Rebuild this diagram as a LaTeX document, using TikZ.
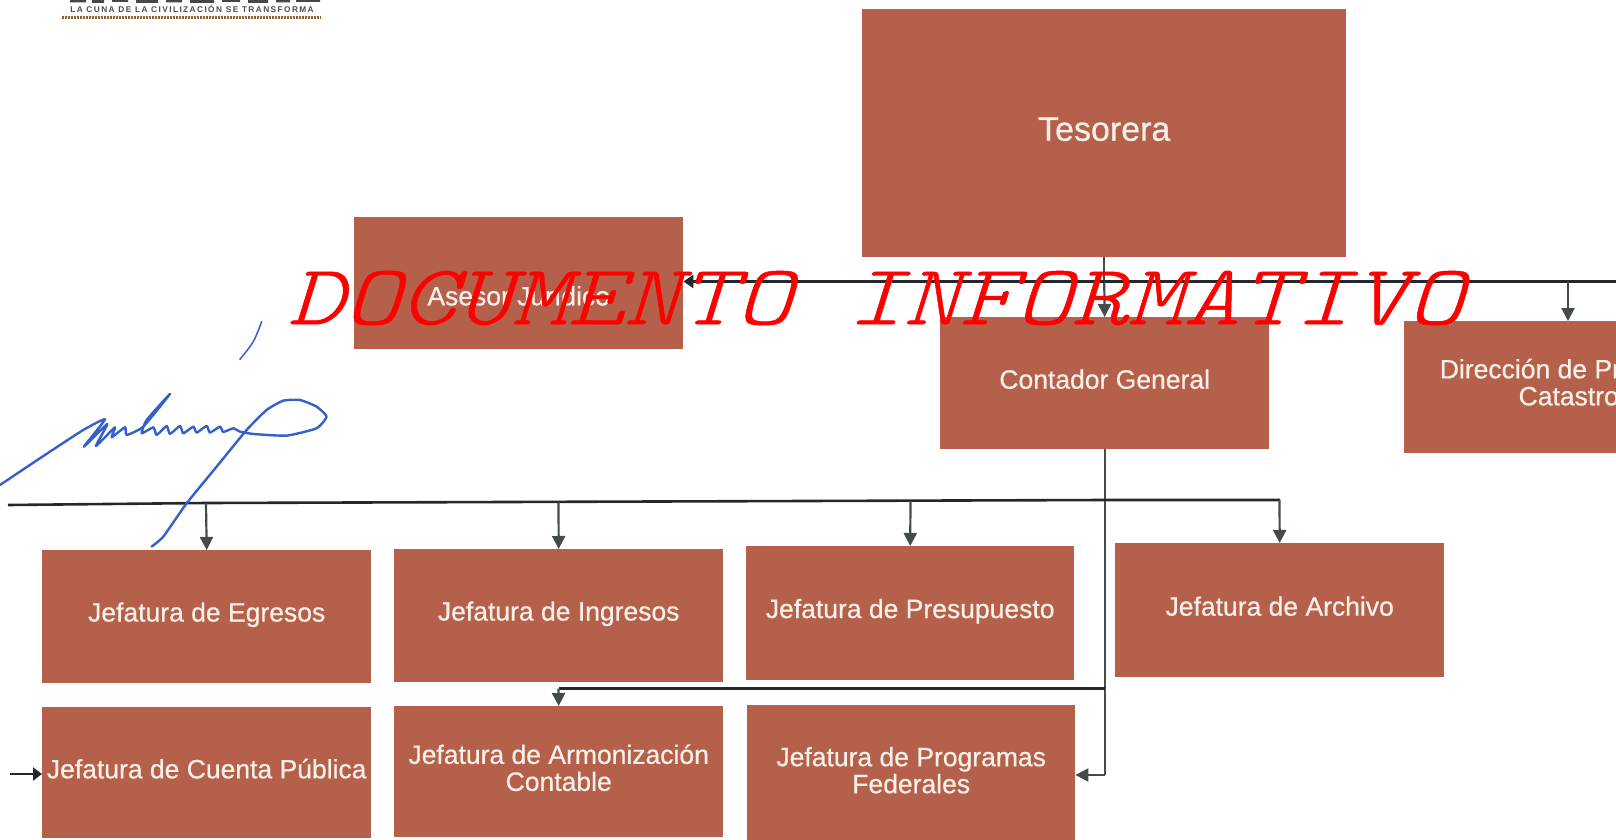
\documentclass[tikz,border=0pt]{standalone}
\usepackage{fontspec}
\setmainfont{Liberation Sans}
\newfontfamily\boxfont[FakeBold=0.6]{Liberation Sans}
\newfontfamily\logofont[LetterSpace=17]{Liberation Sans Bold}
\newfontfamily\wmfont[FakeSlant=0.25,FakeBold=0.5]{Latin Modern Mono Light}
\usetikzlibrary{arrows.meta}
\definecolor{boxfill}{HTML}{B5604A}
\definecolor{boxtext}{HTML}{FBF0E8}
\definecolor{linedark}{HTML}{23282B}
\definecolor{linegrey}{HTML}{454A4D}
\definecolor{signblue}{HTML}{3560CC}
\tikzset{
  x=1pt,y=-1pt,
  orgbox/.style={fill=boxfill,draw=none,inner sep=0pt,anchor=north west},
  boxlabel/.style={text=boxtext,align=center,inner sep=0pt,font=\boxfont\fontsize{26.5}{27}\selectfont},
  hline/.style={draw=linedark,line width=2.6pt},
  vline/.style={draw=linegrey,line width=2.2pt},
  arrowline/.style={draw=linegrey,line width=2.2pt,-{Triangle[length=13pt,width=13pt]}},
  signstroke/.style={draw=signblue,line width=2.4pt,line cap=round,line join=round},
}
\begin{document}
\begin{tikzpicture}
\useasboundingbox (0,0) rectangle (1616,840);
\clip (0,0) rectangle (1616,840);
\fill[white] (0,0) rectangle (1616,840);

% logo remnant
\fill[linedark!85] (70,0) rectangle (86,2.5) (92,0) rectangle (104,3) (112,0) rectangle (128,2) (136,0) rectangle (158,3) (166,0) rectangle (182,2.5) (190,0) rectangle (214,3) (222,0) rectangle (240,2) (248,0) rectangle (268,3) (276,0) rectangle (290,2.5) (296,0) rectangle (320,2);
\node[text=black!70,font=\logofont\fontsize{8.3}{9}\selectfont,inner sep=0pt] (logotext) at (192,8.5) {LA CUNA DE LA CIVILIZACIÓN SE TRANSFORMA};
\draw[draw=brown!75!black,line width=3pt,dash pattern=on 2pt off 1pt] (62,18) -- (321,18);

% boxes
\node[orgbox,minimum width=484,minimum height=248,label={[boxlabel,font=\boxfont\fontsize{34}{36}\selectfont,yshift=4pt]center:Tesorera}] (tes) at (862,9) {};
\node[orgbox,minimum width=329,minimum height=132,label={[boxlabel,yshift=-13pt]center:Asesor Jurídico}] (ase) at (354,216.5) {};
\node[orgbox,minimum width=329,minimum height=132,label={[boxlabel,yshift=4pt]center:Contador General}] (con) at (940,317) {};
\node[orgbox,minimum width=329,minimum height=132,label={[boxlabel,yshift=5pt]center:{Dirección de Predial y\\Catastro}}] (dir) at (1404,321) {};
\node[orgbox,minimum width=329,minimum height=133,label={[boxlabel,yshift=2pt]center:Jefatura de Egresos}] (egr) at (42,550) {};
\node[orgbox,minimum width=329,minimum height=133,label={[boxlabel,yshift=2pt]center:Jefatura de Ingresos}] (ing) at (394,549) {};
\node[orgbox,minimum width=328,minimum height=134,label={[boxlabel,yshift=2pt]center:Jefatura de Presupuesto}] (pre) at (746,546) {};
\node[orgbox,minimum width=329,minimum height=134,label={[boxlabel,yshift=4pt]center:Jefatura de Archivo}] (arc) at (1115,543) {};
\node[orgbox,minimum width=329,minimum height=131,label={[boxlabel,yshift=4pt]center:Jefatura de Cuenta Pública}] (cue) at (42,707) {};
\node[orgbox,minimum width=329,minimum height=131,label={[boxlabel,yshift=4pt]center:{Jefatura de Armonización\\Contable}}] (arm) at (394,706) {};
\node[orgbox,minimum width=328,minimum height=140,label={[boxlabel,yshift=5pt]center:{Jefatura de Programas\\Federales}}] (pro) at (747,705) {};

% connector coordinates
\coordinate (busA) at (tes.south |- 0,281.5);
\coordinate (pageR) at (1616,281.5);
\coordinate (busB) at (1105,500);
\coordinate (busL) at (8,505);
\coordinate (cueL) at (10,774);
\coordinate (armJ) at (1105,688.5);
\coordinate (proJ) at (1105,775);

% connectors
\draw[vline] (tes.south) -- (busA);
\draw[hline] (busA) -- (pageR);
\draw[arrowline] (busA) -- (con.north);
\draw[hline,-{Triangle[length=10pt,width=13pt]}] (busA) -- (ase.east |- busA);
\draw[arrowline] (1568,281.5) -- (1568,321);
\draw[vline] (con.south -| busB) -- (proJ);
\draw[arrowline] (proJ) -- (pro.east |- proJ);
\draw[hline] (busL) -- (206,503) -- (busB) -- (1280,500);
\draw[arrowline] (206,503) -- (egr.north);
\draw[arrowline] (558.5,502) -- (ing.north);
\draw[arrowline] (910.5,501) -- (pre.north);
\draw[arrowline] (1279.5,500) -- (arc.north);
\draw[hline] (armJ) -- (558.5,688.5);
\draw[arrowline] (558.5,688.5) -- (arm.north);
\draw[hline,-{Triangle[length=9pt,width=13pt]}] (cueL) -- (cue.west |- cueL);

% signature
\begin{scope}[x=0.3333pt,y=-0.3333pt,shift={(0,960)}]
\draw[signstroke,line width=1.5pt] plot[smooth,tension=0.5] coordinates {(785,5) (760,65) (720,118)};
\draw[signstroke] plot[smooth,tension=0.3] coordinates {(0,495) (150,395) (250,330) (315,298) (252,380) (322,312) (288,378) (345,322) (335,352) (375,322) (380,345) (430,320) (510,222) (440,300) (425,340) (460,322) (470,345) (500,318) (510,342) (540,318) (550,340) (580,320) (590,338) (620,318) (630,338) (660,320) (670,336) (700,325) (720,335) (760,342) (860,347) (950,325) (980,290) (950,260) (900,240) (850,242) (800,270) (740,330) (650,440) (560,550) (490,650) (455,680)};
\end{scope}

% watermark
\node[text=red,font=\wmfont\fontsize{102}{102}\selectfont,inner sep=0pt,transform shape,xscale=1.045,yscale=0.84] (wm) at (875.5,298) {DOCUMENTO INFORMATIVO};
\end{tikzpicture}
\end{document}
